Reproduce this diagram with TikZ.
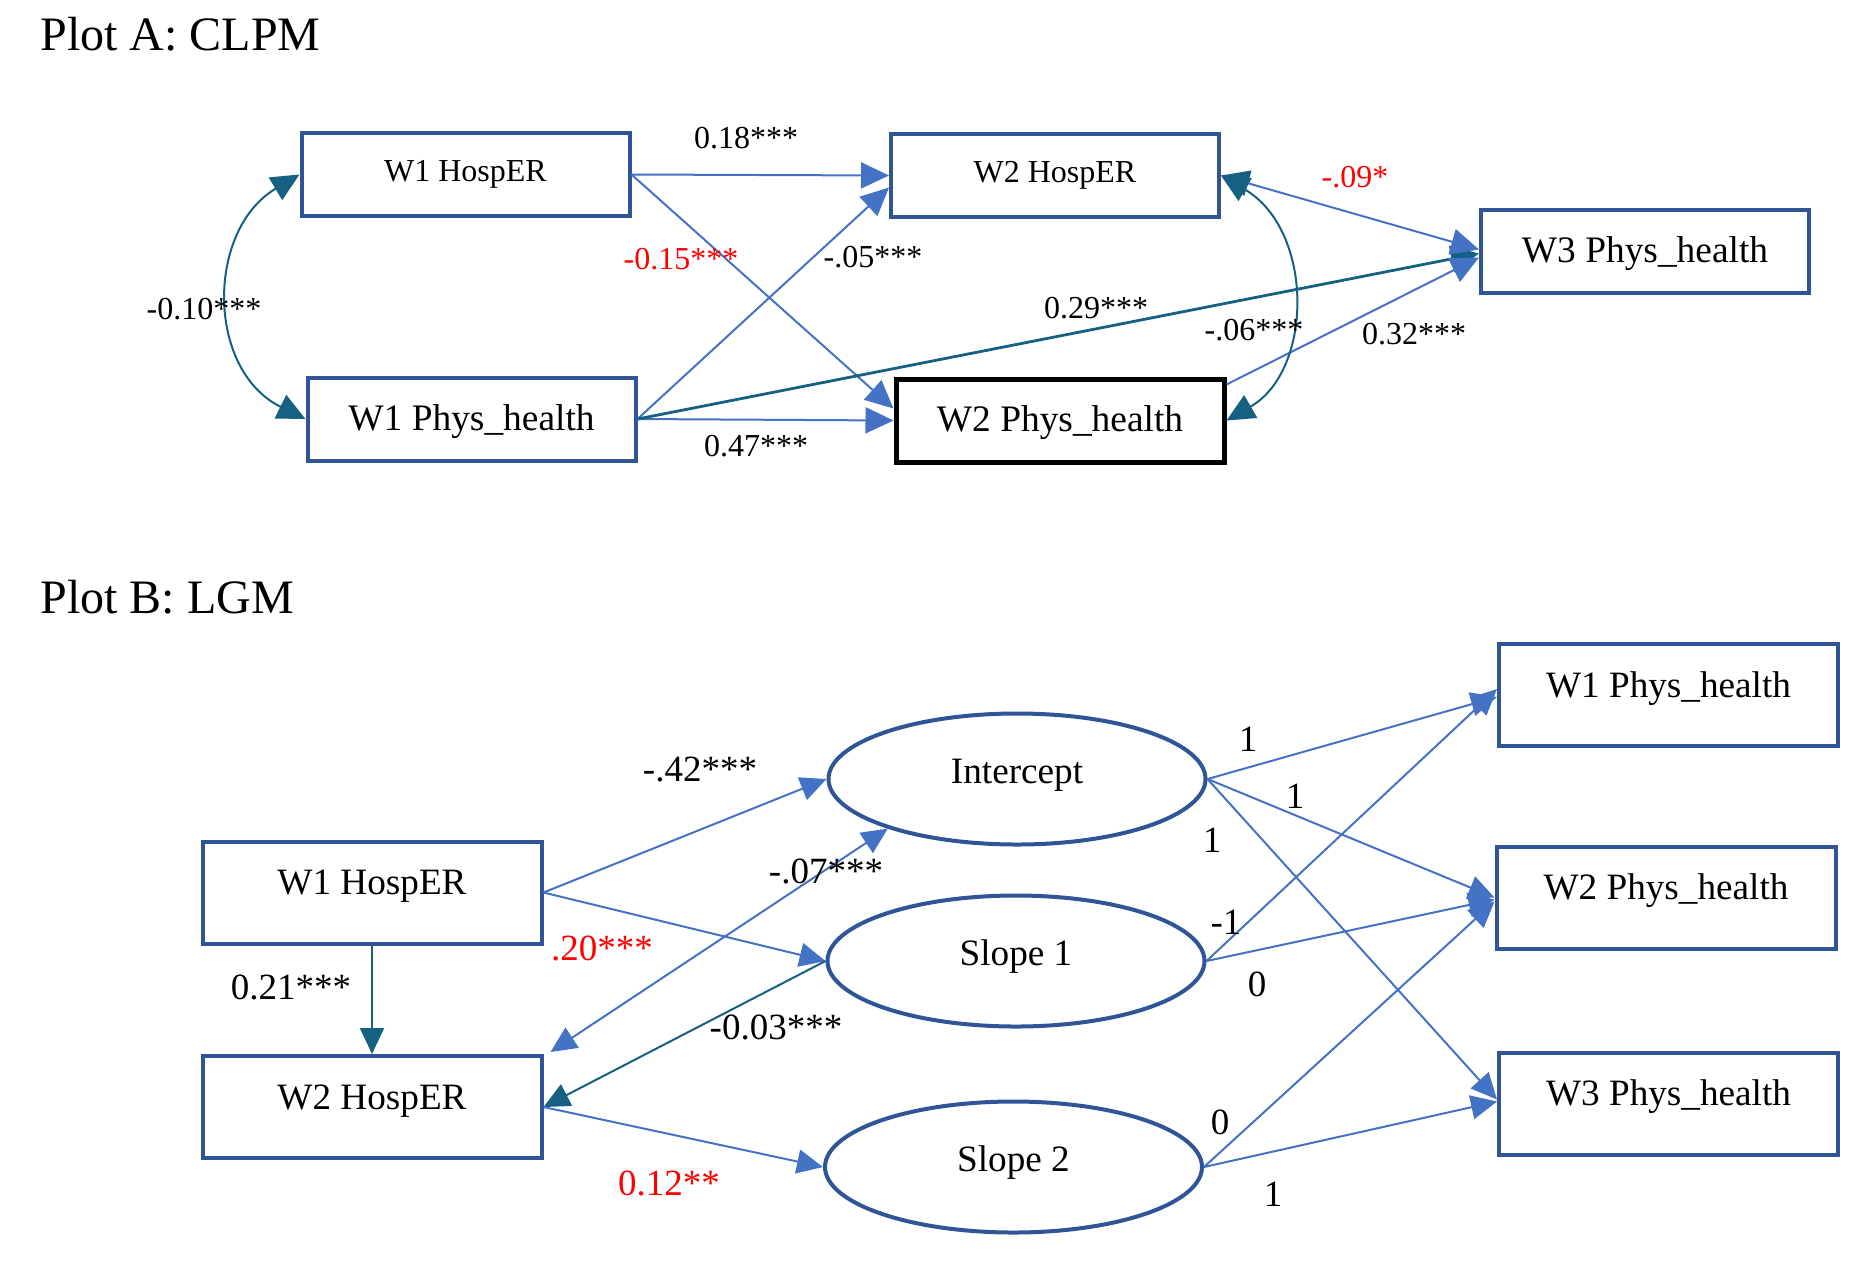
\documentclass[tikz,border=0pt]{standalone}
\usepackage{fontspec}
\setmainfont{Liberation Serif}
\usetikzlibrary{arrows.meta,shapes.geometric,calc}
\definecolor{boxblue}{RGB}{47,85,151}
\definecolor{arrblue}{RGB}{68,114,196}
\definecolor{tealc}{RGB}{22,96,130}
\definecolor{redc}{RGB}{255,0,0}
\begin{document}
\begin{tikzpicture}[x=0.5pt,y=-0.5pt,
  tipb/.tip={Triangle[length=14pt,width=13pt,color=arrblue]},
  tipt/.tip={Triangle[length=14pt,width=13pt,color=tealc]},
  tipbs/.tip={Triangle[length=13pt,width=12pt,color=arrblue]},
  tipts/.tip={Triangle[length=13pt,width=12pt,color=tealc]},
  boxbase/.style={draw=boxblue,line width=2pt,fill=white,inner sep=0pt,minimum width=164pt,minimum height=41.5pt},
  boxsmall/.style={boxbase,font=\fontsize{16}{19}\selectfont},
  boxbig/.style={boxbase,font=\fontsize{18.7}{22}\selectfont,text height=12.8pt,text depth=1.5pt},
  boxblack/.style={boxbig,draw=black,line width=2.5pt},
  boxB/.style={boxbase,minimum width=169.5pt,minimum height=51pt,font=\fontsize{18.6}{22}\selectfont,text height=12.7pt,text depth=10.4pt},
  latent/.style={ellipse,draw=boxblue,line width=2pt,fill=white,inner sep=0pt,minimum width=188.5pt,minimum height=65.5pt,font=\fontsize{18.6}{22}\selectfont,text height=12.7pt,text depth=8.5pt},
  title/.style={anchor=base west,inner sep=0pt,font=\fontsize{24}{28}\selectfont},
  labA/.style={inner sep=0pt,font=\fontsize{16}{19}\selectfont},
  labB/.style={inner sep=0pt,font=\fontsize{18.5}{22}\selectfont},
  pathb/.style={draw=arrblue,line width=1pt,-tipb},
  patht/.style={draw=tealc,line width=1pt,-tipt},
  pathbs/.style={draw=arrblue,line width=1pt,-tipbs},
  pathts/.style={draw=tealc,line width=1pt,-tipts},
]
\useasboundingbox (0,0) rectangle (1863,1260);

% ---------------- Plot A ----------------
\node[title] (tA) at (40,50) {Plot A: CLPM};

\node[boxsmall] (aW1H) at (465.5,174.5) {W1 HospER};
\node[boxsmall] (aW2H) at (1055,175.5) {W2 HospER};
\node[boxbig]   (aW3P) at (1645,251.5) {W3 Phys\_health};
\node[boxbig]   (aW1P) at (471.5,419) {W1 Phys\_health};
\node[boxblack] (aW2P) at (1060,420.5) {W2 Phys\_health};

\draw[pathb] (aW1H.east) -- (aW2H.west);
\draw[pathb] (aW1H.east) -- ($(aW2P.west)+(0,-12)$);
\draw[pathb] (aW1P.east) -- ($(aW2H.west)+(0,12)$);
\draw[pathb] (aW1P.east) -- (aW2P.west);
\draw[patht,line width=1.4pt] (aW1P.east) -- ($(aW3P.west)+(0,2)$);
\draw[draw=arrblue,line width=1pt,tipt-tipb] (aW2H.east) -- ($(aW3P.west)+(0,-2)$);
\draw[pathb] ($(aW2P.north east)+(0,8)$) -- ($(aW3P.west)+(0,6)$);
\draw[draw=tealc,line width=1pt,tipt-tipt] (aW2H.east) .. controls (1314,230) and (1314,370) .. (aW2P.east);
\draw[draw=tealc,line width=1pt,tipt-tipt] (aW1H.west) .. controls (206,230) and (206,370) .. (aW1P.west);

\node[labA] (l1) at (746,138) {0.18***};
\node[labA,text=redc] (l2) at (681,259) {-0.15***};
\node[labA] (l3) at (873,257) {-.05***};
\node[labA] (l4) at (204,309) {-0.10***};
\node[labA] (l5) at (1096,308) {0.29***};
\node[labA] (l6) at (1254,330) {-.06***};
\node[labA] (l7) at (1414,334) {0.32***};
\node[labA] (l8) at (756,446) {0.47***};
\node[labA,text=redc] (l9) at (1355,177) {-.09*};

% ---------------- Plot B ----------------
\node[title] (tB) at (40,613) {Plot B: LGM};

\node[boxB] (bW1H) at (372,892.5) {W1 HospER};
\node[boxB] (bW2H) at (372,1107) {W2 HospER};
\node[latent] (bInt) at (1017,779) {Intercept};
\node[latent] (bS1) at (1016,961) {Slope 1};
\node[latent] (bS2) at (1013.5,1167) {Slope 2};
\node[boxB] (bW1P) at (1668.5,695) {W1 Phys\_health};
\node[boxB] (bW2P) at (1666,897.5) {W2 Phys\_health};
\node[boxB] (bW3P) at (1668.5,1103.5) {W3 Phys\_health};

\draw[pathbs] (bW1H.east) -- (bInt.west);
\draw[pathbs] (bW1H.east) -- (bS1.west);
\draw[pathts] (bW1H.south) -- (bW2H.north);
\draw[draw=arrblue,line width=1pt,tipbs-tipbs] ($(bW2H.north east)+(7,-2)$) -- (bInt.201);
\draw[pathts] (bS1.west) -- (bW2H.east);
\draw[pathbs] (bW2H.east) -- (bS2.west);

\draw[pathbs] (bInt.east) -- ($(bW1P.west)+(0,2)$);
\draw[pathbs] (bInt.east) -- (bW2P.west);
\draw[pathbs] (bInt.east) -- ($(bW3P.west)+(0,-4)$);
\draw[pathbs] (bS1.east) -- ($(bW1P.west)+(0,-6)$);
\draw[pathbs] (bS1.east) -- ($(bW2P.west)+(0,2)$);
\draw[pathbs] (bS2.east) -- ($(bW2P.west)+(0,4)$);
\draw[pathbs] (bS2.east) -- ($(bW3P.west)+(0,-2)$);

\node[labB] (m1) at (700,769) {-.42***};
\node[labB,text=redc] (m2) at (602,948) {.20***};
\node[labB] (m3) at (291,987) {0.21***};
\node[labB] (m4) at (826,871) {-.07***};
\node[labB] (m5) at (776,1027) {-0.03***};
\node[labB,text=redc] (m6) at (669,1183) {0.12**};
\node[labB] (m7) at (1248,739) {1};
\node[labB] (m8) at (1295,796) {1};
\node[labB] (m9) at (1212,840) {1};
\node[labB] (m10) at (1226,922) {-1};
\node[labB] (m11) at (1257,984) {0};
\node[labB] (m12) at (1220,1122) {0};
\node[labB] (m13) at (1273,1194) {1};
\end{tikzpicture}
\end{document}
